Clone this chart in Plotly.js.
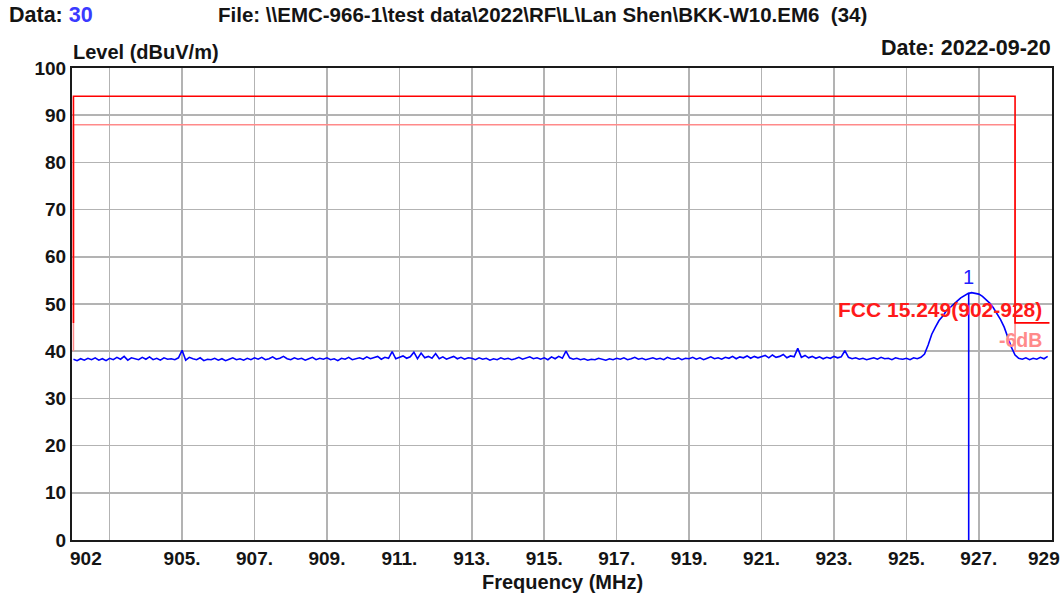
<!DOCTYPE html>
<html>
<head>
<meta charset="utf-8">
<script src="https://cdn.plot.ly/plotly-3.0.1.min.js"></script>
<style>html,body{margin:0;padding:0;background:#fff;}#chart{width:1062px;height:597px;}</style>
</head>
<body>
<div id="chart"></div>
<script>
// ---- Data ----
// Sweep grid (MHz)
const freqStart = 902.0;
const freqStep = 0.1;
// Measured level (dBuV/m), one value per sweep point 902.0 ... 928.9
const levels = [
  38.3, 38.0, 38.4, 38.1, 38.5, 38.2, 38.6, 38.1, 38.4, 38.0,
  38.5, 38.2, 38.7, 38.3, 38.9, 38.1, 38.6, 38.4, 38.2, 38.7,
  38.3, 38.8, 38.2, 38.5, 38.1, 38.6, 38.3, 38.4, 38.2, 38.6,
  40.2, 38.1, 38.7, 38.4, 38.2, 38.6, 38.0, 38.3, 38.2, 38.5,
  38.1, 38.4, 38.0, 38.3, 38.6, 38.2, 38.4, 38.1, 38.5, 38.2,
  38.6, 38.3, 38.7, 38.2, 38.4, 38.8, 38.3, 38.5, 38.9, 38.4,
  38.2, 38.6, 38.3, 38.5, 38.1, 38.4, 38.7, 38.2, 38.5, 38.3,
  38.6, 38.2, 38.4, 38.0, 38.5, 38.3, 38.7, 38.2, 38.4, 38.6,
  38.3, 38.8, 38.4, 38.6, 38.9, 38.3, 38.7, 38.5, 39.9, 38.4,
  38.7, 39.0, 38.5, 38.8, 39.8, 38.4, 39.6, 38.6, 38.9, 38.5,
  39.5, 38.4, 38.8, 38.3, 38.6, 38.9, 38.4, 38.7, 38.3, 38.6,
  38.5, 38.2, 38.6, 38.3, 38.5, 38.1, 38.4, 38.2, 38.6, 38.3,
  38.5, 38.2, 38.4, 38.7, 38.3, 38.5, 38.8, 38.4, 38.6, 38.3,
  38.6, 38.2, 38.8, 38.4, 38.9, 38.5, 40.0, 38.6, 38.3, 38.5,
  38.2, 38.4, 38.1, 38.3, 38.2, 38.5, 38.3, 38.1, 38.4, 38.2,
  38.5, 38.3, 38.6, 38.2, 38.4, 38.7, 38.3, 38.5, 38.2, 38.4,
  38.6, 38.3, 38.5, 38.2, 38.7, 38.4, 38.3, 38.6, 38.2, 38.5,
  38.4, 38.7, 38.3, 38.6, 38.2, 38.5, 38.8, 38.4, 38.6, 38.3,
  38.7, 38.5, 38.9, 38.4, 38.8, 38.6, 39.0, 38.5, 38.9, 38.6,
  38.8, 39.1, 38.6, 39.2, 38.7, 38.9, 39.3, 38.6, 39.0, 38.8,
  40.6, 38.7, 39.1, 38.6, 38.9, 38.5, 38.8, 38.4, 38.7, 38.5,
  38.9, 38.6, 38.8, 40.1, 38.7, 38.4, 38.6, 38.3, 38.5, 38.2,
  38.4, 38.6, 38.3, 38.7, 38.4, 38.5, 38.2, 38.6, 38.4, 38.3,
  38.5, 38.2, 38.6, 38.4, 38.7, 39.4, 41.3, 43.6, 45.1, 46.5,
  47.4, 48.5, 49.2, 50.0, 50.6, 51.3, 51.7, 52.2, 52.4, 52.2,
  52.1, 51.6, 51.0, 50.2, 49.2, 48.0, 46.7, 45.1, 42.9, 40.8,
  39.2, 38.5, 38.3, 38.6, 38.2, 38.5, 38.3, 38.7, 38.4, 38.9
];
// Limit line FCC 15.249 (902-928) and its -6 dB margin line
const limitFreq = [902, 902, 928, 928, 928.95];
const limitLevel = [46, 94, 94, 46, 46];
const marginFreq = [902, 902, 928, 928, 928.95];
const marginLevel = [40, 88, 88, 40, 40];
// Marker 1
const markerFreq = 926.72;
const markerLevel = 52.4;
// Axis ticks
const xTickVals = [903, 905, 907, 909, 911, 913, 915, 917, 919, 921, 923, 925, 927];
const xTickText = ["", "905.", "907.", "909.", "911.", "913.", "915.", "917.", "919.", "921.", "923.", "925.", "927."];
const xStartLabel = "902";
const xEndLabel = "929";
const yTickVals = [0, 10, 20, 30, 40, 50, 60, 70, 80, 90, 100];

const freqs = levels.map((_, i) => +(freqStart + i * freqStep).toFixed(2));

// ---- geometry helpers (paper coords from pixels) ----
const L = 72, R = 1052, T = 68, B = 540;
const px = x => (x - L) / (R - L);
const py = y => (B - y) / (B - T);

const FONT = "Liberation Sans, Arial, sans-serif";
const TXT = "#141414";
const f = (size, color) => ({family: FONT, size: size, color: color || TXT, weight: "bold"});

const traces = [
  {x: marginFreq, y: marginLevel, mode: "lines", line: {color: "#ff8a8a", width: 1.5}, hoverinfo: "skip"},
  {x: limitFreq, y: limitLevel, mode: "lines", line: {color: "#ff0000", width: 1.6}, hoverinfo: "skip"},
  {x: freqs, y: levels, mode: "lines", line: {color: "#0000ff", width: 1.6}, hoverinfo: "skip"},
  {x: [markerFreq, markerFreq], y: [0, markerLevel], mode: "lines", line: {color: "#0000ff", width: 1.6}, hoverinfo: "skip"}
];

const ann = (x, y, text, opts) => Object.assign({
  xref: "paper", yref: "paper", x: px(x), y: py(y), text: text, showarrow: false,
  font: f(20), xanchor: "left", yanchor: "middle"
}, opts || {});

const layout = {
  width: 1062, height: 597,
  margin: {l: L, r: 1062 - R, t: T, b: 597 - B},
  paper_bgcolor: "#ffffff", plot_bgcolor: "#ffffff",
  showlegend: false,
  xaxis: {
    range: [901.96, 929.02], tickmode: "array", tickvals: xTickVals, ticktext: xTickText,
    showgrid: true, gridcolor: "#b3b3b3", gridwidth: 1.6, zeroline: false,
    showline: true, mirror: true, linecolor: "#1a1a1a", linewidth: 2,
    ticks: "", tickfont: f(19)
  },
  yaxis: {
    range: [0, 100], tickmode: "array", tickvals: yTickVals,
    showgrid: true, gridcolor: "#b3b3b3", gridwidth: 1.6, zeroline: false,
    showline: true, mirror: true, linecolor: "#1a1a1a", linewidth: 2,
    ticks: "", ticklabelstandoff: 0, tickfont: f(19)
  },
  annotations: [
    ann(7, 15, "Data: <span style='color:#3a3aff'>30</span>", {font: f(21.5)}),
    ann(216, 15, "File: \\\\EMC-966-1\\test data\\2022\\RF\\L\\Lan Shen\\BKK-W10.EM6\u00a0 (34)", {font: f(20.5)}),
    ann(1053, 48, "Date: 2022-09-20", {xanchor: "right", font: f(21.5)}),
    ann(71, 52, "Level (dBuV/m)", {font: f(20)}),
    ann(562, 582, "Frequency (MHz)", {xanchor: "center", font: f(20)}),
    ann(68, 558, xStartLabel, {font: f(19)}),
    ann(1062, 558, xEndLabel, {xanchor: "right", font: f(19)}),
    ann(1044, 309, "FCC 15.249(902-928)", {xanchor: "right", font: f(21, "#ff1a1a")}),
    ann(1044, 340, "-6dB", {xanchor: "right", font: f(19.5, "#ff8a8a")}),
    {xref: "x", yref: "paper", x: markerFreq, y: py(277), text: "1", showarrow: false,
     font: {family: FONT, size: 20, color: "#2020ff"}, xanchor: "center", yanchor: "middle"}
  ]
};

Plotly.newPlot("chart", traces, layout, {staticPlot: true, displayModeBar: false});
</script>
</body>
</html>
